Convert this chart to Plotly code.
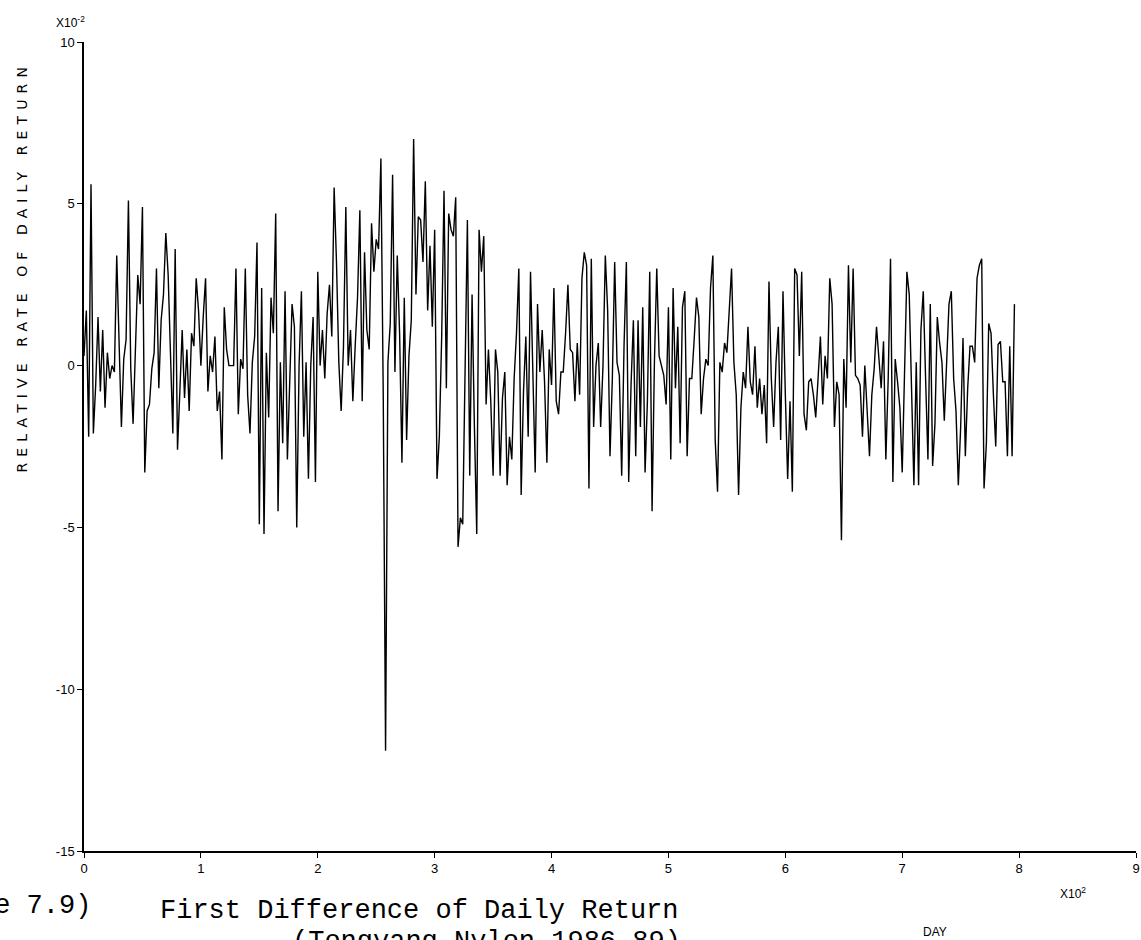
import plotly.graph_objects as go

# Relative rate of daily return, first difference (units of 1e-2), one value every 2 days
ret_days_000_100 = [
    0.3, 1.7, -2.2, 5.6, -2.1, -0.6, 1.5, -0.8, 1.1, -1.3,
    0.4, -0.4, 0.0, -0.2, 3.4, 0.7, -1.9, 0.2, 0.8, 5.1,
    -0.1, -1.8, 0.5, 2.8, 1.9, 4.9, -3.3, -1.4, -1.2, -0.1,
    0.4, 3.0, -0.7, 1.4, 2.2, 4.1, 2.8, 0.5, -2.1, 3.6,
    -2.6, -0.8, 1.1, -1.0, 0.5, -1.4, 1.0, 0.6, 2.7, 1.7,
    0.0,
]
ret_days_102_198 = [
    1.5, 2.7, -0.8, 0.3, -0.2, 0.9, -1.4, -0.8, -2.9, 1.8,
    0.5, 0.0, 0.0, 0.0, 3.0, -1.5, 0.2, -0.1, 3.0, -0.9,
    -2.1, 0.1, 0.9, 3.8, -4.9, 2.4, -5.2, 0.4, -1.6, 2.1,
    1.0, 4.7, -4.5, 0.1, -2.4, 2.3, -2.9, -0.4, 1.9, 1.2,
    -5.0, 0.0, 2.3, -2.2, 0.1, -3.5, 0.0, 1.5, -3.6,
]
ret_days_200_300 = [
    2.9, 0.0, 1.1, -0.4, 1.6, 2.5, 0.9, 5.5, 3.2, 0.1,
    -1.4, 0.6, 4.9, 0.0, 1.1, -1.1, 0.6, 2.1, 4.8, -1.1,
    3.5, 1.1, 0.5, 4.4, 2.9, 3.9, 3.6, 6.4, -0.9, -11.9,
    0.1, 1.3, 5.9, -0.2, 3.4, 1.0, -3.0, 2.1, -2.3, 0.3,
    1.4, 7.0, 2.2, 4.6, 4.5, 3.2, 5.7, 1.7, 3.7, 1.2,
    4.2,
]
ret_days_302_400 = [
    -3.5, -2.2, 0.9, 5.4, -0.7, 4.7, 4.2, 4.0, 5.2, -5.6,
    -4.7, -4.9, -0.6, 4.5, -3.4, 2.2, -1.9, -5.2, 4.2, 2.9,
    4.0, -1.2, 0.5, -1.1, -3.4, 0.5, -0.2, -3.4, -1.0, -0.2,
    -3.7, -2.2, -2.9, -0.4, 1.0, 3.0, -4.0, -0.8, 0.9, -2.2,
    2.9, -0.6, -3.3, 1.9, -0.2, 1.1, -0.5, -3.0, 0.5, -0.6,
]
ret_days_402_500 = [
    2.4, -1.1, -1.5, -0.2, -0.2, 1.0, 2.5, 0.5, 0.4, -1.1,
    0.7, -0.9, 2.7, 3.5, 3.1, -3.8, 3.3, -1.9, 0.0, 0.7,
    -1.9, 0.0, 3.4, 1.7, -2.8, -0.4, 3.2, 0.1, -0.3, -3.4,
    0.6, 3.2, -3.6, -0.6, 1.4, -2.8, 1.4, -1.9, 1.8, -3.3,
    -1.1, 2.9, -4.5, 0.1, 3.0, 0.3, 0.0, -0.3, -1.2, 1.8,
]
ret_days_502_600 = [
    -2.9, 2.4, -0.7, 1.2, -2.4, 1.8, 2.3, -2.8, -0.4, -0.4,
    0.8, 2.1, 1.5, -1.5, -0.4, 0.2, 0.0, 2.4, 3.4, -2.3,
    -3.9, 0.1, -0.2, 0.7, 0.4, 1.7, 3.0, 0.1, -0.9, -4.0,
    -1.3, -0.2, -0.7, 1.2, -0.5, -0.9, 0.6, -1.3, -0.4, -1.5,
    -0.6, -2.4, 2.6, -0.4, -1.9, 0.1, 1.2, -2.3, 2.3, -0.9,
]
ret_days_602_700 = [
    -3.5, -1.1, -3.9, 3.0, 2.8, 0.3, 2.9, -1.5, -2.0, -0.5,
    -0.4, -0.9, -1.6, -0.4, 0.9, -1.2, 0.3, -0.4, 2.7, 1.9,
    -1.9, -0.5, -0.9, -5.4, 0.2, -1.3, 3.1, 0.1, 3.0, -0.3,
    -0.4, -0.6, -2.2, 0.0, -1.3, -2.8, -0.9, -0.1, 1.2, 0.3,
    -0.7, 0.75, -2.9, -0.4, 3.3, -3.6, 0.2, -0.5, -1.3, -3.3,
]
ret_days_702_796 = [
    -0.4, 2.9, 2.2, -0.9, -3.7, 0.1, -3.7, 1.1, 2.3, -0.4,
    -2.9, 1.9, -3.1, -1.8, 1.5, 0.7, 0.1, -1.7, 0.1, 1.9,
    2.3, -0.4, -1.4, -3.7, -1.9, 0.85, -2.8, -0.7, 0.6, 0.6,
    0.1, 2.7, 3.1, 3.3, -3.8, -2.4, 1.3, 1.0, -0.9, -2.5,
    0.65, 0.75, -0.5, -0.5, -2.8, 0.6, -2.8, 1.9,
]
day_step = 2

x_tick_vals = [0, 100, 200, 300, 400, 500, 600, 700, 800, 900]
x_tick_text = ["0", "1", "2", "3", "4", "5", "6", "7", "8", "9"]
y_tick_vals = [10, 5, 0, -5, -10, -15]
y_tick_text = ["10", "5", "0", "-5", "-10", "-15"]

values = (ret_days_000_100 + ret_days_102_198 + ret_days_200_300 + ret_days_302_400
          + ret_days_402_500 + ret_days_502_600 + ret_days_602_700 + ret_days_702_796)
days = [i * day_step for i in range(len(values))]

W, H = 1141, 940
L, R, T, B = 84, 5, 42, 89
PW, PH = W - L - R, H - T - B


def px(x):
    return (x - L) / PW


def py(y):
    return (H - B - y) / PH


fig = go.Figure()
fig.add_trace(go.Scatter(x=days, y=values, mode="lines",
                         line=dict(color="black", width=1.4), hoverinfo="skip"))

tick_font = dict(family="Liberation Sans, Arial, sans-serif", size=13, color="black")
fig.update_layout(
    width=W, height=H,
    margin=dict(l=L, r=R, t=T, b=B),
    paper_bgcolor="white", plot_bgcolor="white",
    showlegend=False,
    xaxis=dict(range=[0, 900], tickvals=x_tick_vals, ticktext=x_tick_text, automargin=False,
               showgrid=False, zeroline=False, showline=True, linecolor="black", linewidth=1.5,
               ticks="outside", ticklen=5, tickwidth=1.2, tickcolor="black", tickfont=tick_font),
    yaxis=dict(range=[-15, 10], tickvals=y_tick_vals, ticktext=y_tick_text, automargin=False,
               showgrid=False, zeroline=False, showline=True, linecolor="black", linewidth=1.5,
               ticks="outside", ticklen=5, tickwidth=1.2, tickcolor="black", tickfont=tick_font),
)

mono = "Liberation Mono, Courier New, monospace"
ann = [
    dict(text="X10<sup>-2</sup>", x=px(54), y=py(22), xanchor="left", yanchor="middle",
         font=dict(family="Liberation Sans, Arial, sans-serif", size=12, color="black")),
    dict(text="RELATIVE RATE OF DAILY RETURN", x=px(22), y=py(267), xanchor="center", yanchor="middle",
         textangle=-90, font=dict(family="DejaVu Sans, sans-serif", size=14, color="black")),
    dict(text="X10<sup>2</sup>", x=px(1058), y=py(893), xanchor="left", yanchor="middle",
         font=dict(family="Liberation Sans, Arial, sans-serif", size=12, color="black")),
    dict(text="DAY", x=px(921), y=py(932), xanchor="left", yanchor="middle",
         font=dict(family="Liberation Sans, Arial, sans-serif", size=12, color="black")),
    dict(text="(Figure 7.9)", x=px(93), y=py(906), xanchor="right", yanchor="middle",
         font=dict(family=mono, size=27, color="black")),
    dict(text="First Difference of Daily Return", x=px(158), y=py(911), xanchor="left", yanchor="middle",
         font=dict(family=mono, size=27, color="black")),
    dict(text="(Tongyang Nylon 1986-89)", x=px(290), y=py(942), xanchor="left", yanchor="middle",
         font=dict(family=mono, size=27, color="black")),
]
for a in ann:
    a.update(xref="paper", yref="paper", showarrow=False)
fig.update_layout(annotations=ann)

post = """
document.body.style.margin = '0';
document.body.style.overflow = 'hidden';
document.querySelectorAll('.annotation-text').forEach(function(t){
  if (t.textContent.indexOf('RELATIVE') >= 0) { t.style.letterSpacing = '6.1px'; }
});
"""
fig.write_html("out.html", post_script=post, config={"displayModeBar": False})
